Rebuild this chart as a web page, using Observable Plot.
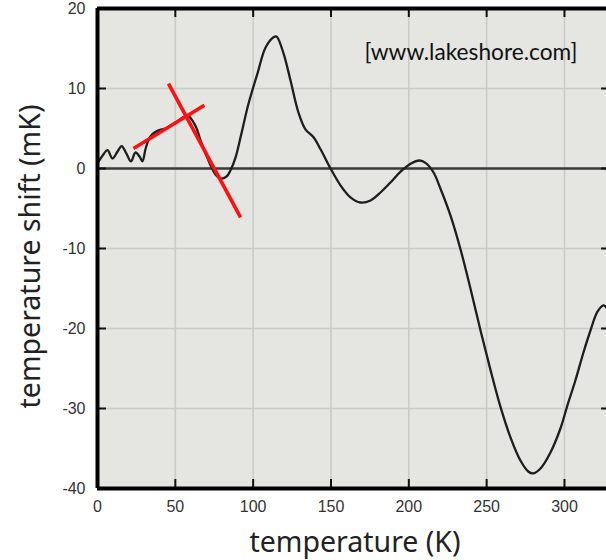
<!DOCTYPE html>
<html>
<head>
<meta charset="utf-8">
<script src="https://cdn.jsdelivr.net/npm/d3@7"></script>
<script src="https://cdn.jsdelivr.net/npm/@observablehq/plot@0.6"></script>
<style>
  html, body { margin: 0; padding: 0; background: #ffffff; }
  #chart svg { display: block; }
</style>
</head>
<body>
<div id="chart"></div>
<script>
// ---- data ----
const temperatureK = [0.3, 3.2, 6.4, 9.6, 12.8, 15.5, 18.5, 21.5, 24.4, 27.0, 28.9, 30.8, 32.8, 35.3, 38.5, 45, 51.4, 57.8, 63, 66.2, 69.4, 72.6, 75.8, 79, 82.9, 85.4, 88.7, 91.9, 97, 102.8, 107.9, 113.1, 115, 119.5, 124, 129.1, 133.6, 138.8, 143.3, 149.7, 156.1, 162.5, 168.9, 175.4, 181.8, 188.2, 194.7, 201.1, 207, 210.7, 215.9, 220.3, 226.8, 233.2, 239.6, 246, 252.5, 258.9, 265.3, 271.7, 276.9, 280.1, 284.6, 291, 297.4, 301.9, 307, 312.2, 316.7, 321.2, 325.1, 327];
const shiftMK = [0.75, 1.6, 2.3, 1.25, 2.1, 2.8, 1.9, 0.9, 2.0, 1.5, 0.9, 2.4, 3.6, 4.3, 4.7, 5.1, 5.9, 6.6, 5.3, 3.5, 1.9, 0.4, -0.75, -1.25, -1.0, -0.25, 1.4, 3.9, 8.1, 11.9, 15.1, 16.4, 16.5, 14.4, 11.0, 7.0, 4.9, 3.9, 2.4, 0, -2.1, -3.6, -4.25, -4.0, -3.0, -1.75, -0.4, 0.6, 1.0, 0.7, -0.5, -2.5, -5.9, -10.1, -15.0, -20.2, -25.2, -29.8, -33.6, -36.5, -37.9, -38.1, -37.5, -35.5, -32.5, -29.6, -26.5, -23.0, -20.25, -17.9, -17.1, -17.4];

const xTicks = [0, 50, 100, 150, 200, 250, 300];
const yTicks = [-40, -30, -20, -10, 0, 10, 20];
const xDomain = [0, 327];
const yDomain = [-40, 20];

// red annotation strokes (in data units)
const markX1 = [23.1, 45.6];
const markY1 = [2.5, 10.6];
const markX2 = [68.7, 91.9];
const markY2 = [7.9, -6.1];

const xLabel = "temperature (K)";
const yLabel = "temperature shift (mK)";
const sourceNote = "[www.lakeshore.com]";

// ---- tables built from the arrays ----
const curve = temperatureK.map((t, i) => ({t, v: shiftMK[i]}));
const marks = markX1.map((x1, i) => ({x1, y1: markY1[i], x2: markX2[i], y2: markY2[i]}));

const W = 606, H = 560;
const mTop = 8, mBottom = 72, mLeft = 97, mRight = 0;
const plotW = W - mLeft - mRight, plotH = H - mTop - mBottom;
const hyphenFormat = (d) => String(d);

const chart = Plot.plot({
  width: W,
  height: H,
  marginTop: mTop,
  marginBottom: mBottom,
  marginLeft: mLeft,
  marginRight: mRight,
  style: {background: "#ffffff", fontFamily: "'Liberation Sans', Arial, sans-serif"},
  x: {domain: xDomain, axis: null},
  y: {domain: yDomain, axis: null},
  marks: [
    Plot.frame({fill: "#e5e5e1", stroke: null}),
    Plot.ruleX(xTicks, {stroke: "#cbcbc7", strokeWidth: 1.6}),
    Plot.ruleY(yTicks, {stroke: "#cbcbc7", strokeWidth: 1.6}),
    Plot.ruleY([0], {stroke: "#3a3a3a", strokeWidth: 2.6}),
    Plot.line(curve, {x: "t", y: "v", curve: "catmull-rom", stroke: "#1e1e1e", strokeWidth: 2.3}),
    Plot.link(marks, {x1: "x1", y1: "y1", x2: "x2", y2: "y2", stroke: "#ff1010", strokeWidth: 3.6, strokeLinecap: "butt"}),
    // inward ticks
    Plot.ruleX(xTicks, {stroke: "#111", strokeWidth: 2, insetTop: plotH - 9}),
    Plot.ruleX(xTicks, {stroke: "#111", strokeWidth: 2, insetBottom: plotH - 9}),
    Plot.ruleY(yTicks, {stroke: "#111", strokeWidth: 2, insetRight: plotW - 9}),
    Plot.ruleY(yTicks, {stroke: "#111", strokeWidth: 2, insetLeft: plotW - 5}),
    // frame lines
    Plot.ruleX([xDomain[0]], {stroke: "#000", strokeWidth: 4}),
    Plot.ruleY(yDomain, {stroke: "#000", strokeWidth: 4}),
    // tick labels
    Plot.axisX(xTicks, {tickSize: 0, tickPadding: 12, fontSize: 16, fill: "#333", label: null, tickFormat: hyphenFormat}),
    Plot.axisY(yTicks, {tickSize: 0, tickPadding: 12, fontSize: 16, fill: "#333", label: null, tickFormat: hyphenFormat}),
    // axis titles
    Plot.text([xLabel], {frameAnchor: "bottom", textAnchor: "middle", lineAnchor: "middle", dx: 3, dy: 54, fontSize: 28.5, fill: "#222", fontFamily: "'Noto Sans', sans-serif"}),
    Plot.text([yLabel], {frameAnchor: "left", textAnchor: "middle", lineAnchor: "middle", rotate: -90, dx: -67, dy: 8, fontSize: 28.5, fill: "#222", fontFamily: "'Noto Sans', sans-serif"}),
    // source note
    Plot.text([sourceNote], {frameAnchor: "top-right", textAnchor: "end", lineAnchor: "middle", dx: -29, dy: 44, fontSize: 22.7, fill: "#111", fontFamily: "Lato, sans-serif"})
  ]
});

document.getElementById("chart").appendChild(chart);
</script>
</body>
</html>
